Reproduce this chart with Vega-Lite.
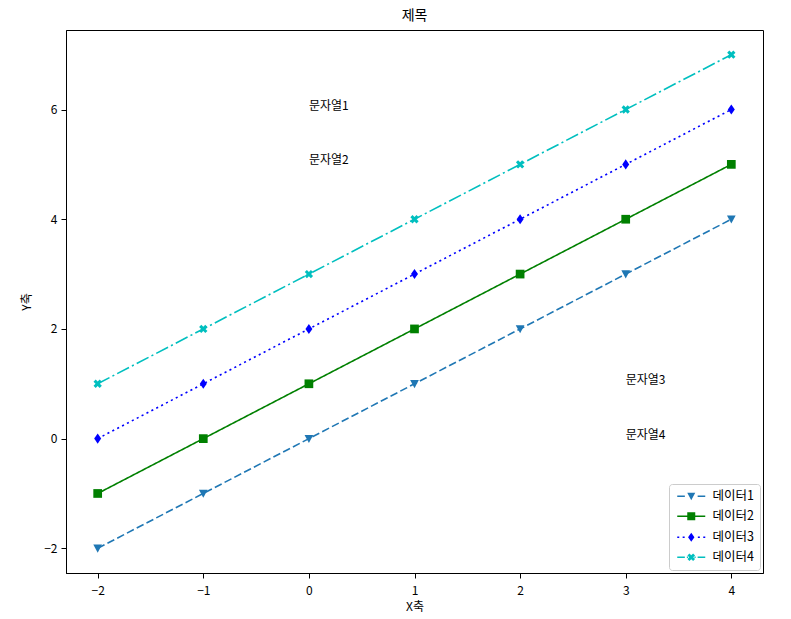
{
  "$schema": "https://vega.github.io/schema/vega-lite/v6.json",
  "width": 697,
  "height": 543,
  "autosize": {"type": "none"},
  "padding": {"left": 66, "top": 30, "right": 28, "bottom": 46},
  "background": "white",
  "config": {
    "font": "Noto Sans CJK KR",
    "view": {"stroke": "black", "strokeWidth": 1},
    "axis": {
      "grid": false,
      "domainColor": "black",
      "tickColor": "black",
      "tickSize": 5,
      "labelFontSize": 12,
      "labelColor": "black",
      "labelPadding": 4,
      "titleFontSize": 12,
      "titleFontWeight": "normal",
      "titleColor": "black"
    },
    "legend": {
      "symbolBaseFillColor": {"expr": "datum.value === '데이터1' ? '#1f77b4' : datum.value === '데이터2' ? '#008000' : datum.value === '데이터3' ? '#0000ff' : '#00bfbf'"},
      "symbolBaseStrokeColor": {"expr": "datum.value === '데이터1' ? '#1f77b4' : datum.value === '데이터2' ? '#008000' : datum.value === '데이터3' ? '#0000ff' : '#00bfbf'"}
    }
  },
  "title": {"text": "제목", "fontSize": 14, "fontWeight": "normal", "color": "black", "offset": 7, "anchor": "middle"},
  "datasets": {
    "lines": [
      {"series": "데이터1", "x": -2, "y": -2}, {"series": "데이터1", "x": -1, "y": -1}, {"series": "데이터1", "x": 0, "y": 0}, {"series": "데이터1", "x": 1, "y": 1}, {"series": "데이터1", "x": 2, "y": 2}, {"series": "데이터1", "x": 3, "y": 3}, {"series": "데이터1", "x": 4, "y": 4},
      {"series": "데이터2", "x": -2, "y": -1}, {"series": "데이터2", "x": -1, "y": 0}, {"series": "데이터2", "x": 0, "y": 1}, {"series": "데이터2", "x": 1, "y": 2}, {"series": "데이터2", "x": 2, "y": 3}, {"series": "데이터2", "x": 3, "y": 4}, {"series": "데이터2", "x": 4, "y": 5},
      {"series": "데이터3", "x": -2, "y": 0}, {"series": "데이터3", "x": -1, "y": 1}, {"series": "데이터3", "x": 0, "y": 2}, {"series": "데이터3", "x": 1, "y": 3}, {"series": "데이터3", "x": 2, "y": 4}, {"series": "데이터3", "x": 3, "y": 5}, {"series": "데이터3", "x": 4, "y": 6},
      {"series": "데이터4", "x": -2, "y": 1}, {"series": "데이터4", "x": -1, "y": 2}, {"series": "데이터4", "x": 0, "y": 3}, {"series": "데이터4", "x": 1, "y": 4}, {"series": "데이터4", "x": 2, "y": 5}, {"series": "데이터4", "x": 3, "y": 6}, {"series": "데이터4", "x": 4, "y": 7}
    ],
    "notes": [
      {"label": "문자열1", "x": 0, "y": 6},
      {"label": "문자열2", "x": 0, "y": 5},
      {"label": "문자열3", "x": 3, "y": 1},
      {"label": "문자열4", "x": 3, "y": 0}
    ]
  },
  "encoding": {
    "x": {"field": "x", "type": "quantitative", "scale": {"domain": [-2.3, 4.3], "nice": false, "zero": false}, "axis": {"values": [-2, -1, 0, 1, 2, 3, 4], "format": "d", "title": "X축", "titlePadding": 5, "labelPadding": 7}},
    "y": {"field": "y", "type": "quantitative", "scale": {"domain": [-2.45, 7.45], "nice": false, "zero": false}, "axis": {"values": [-2, 0, 2, 4, 6], "format": "d", "title": "Y축", "titlePadding": 10}}
  },
  "layer": [
    {
      "data": {"name": "lines"},
      "mark": {"type": "line", "strokeWidth": 1.6},
      "encoding": {
        "color": {"field": "series", "type": "nominal", "scale": {"domain": ["데이터1", "데이터2", "데이터3", "데이터4"], "range": ["#1f77b4", "#008000", "#0000ff", "#00bfbf"]}, "legend": null},
        "strokeDash": {"field": "series", "type": "nominal", "scale": {"domain": ["데이터1", "데이터2", "데이터3", "데이터4"], "range": [[7.7, 3.3], [1, 0], [2.1, 3.4], [13.3, 3.3, 2.1, 3.3]]}, "legend": null}
      }
    },
    {
      "data": {"name": "lines"},
      "mark": {"type": "point", "filled": true, "opacity": 1, "size": 76},
      "encoding": {
        "color": {"field": "series", "type": "nominal", "legend": null},
        "shape": {"field": "series", "type": "nominal", "scale": {"domain": ["데이터1", "데이터2", "데이터3", "데이터4"], "range": ["M-1,-0.85L1,-0.85L0,1Z", "M-1,-1L1,-1L1,1L-1,1Z", "M0,-1.15L0.8,0L0,1.15L-0.8,0Z", "M0.955,-0.46L0.495,0L0.955,0.46L0.46,0.955L0,0.495L-0.46,0.955L-0.955,0.46L-0.495,0L-0.955,-0.46L-0.46,-0.955L0,-0.495L0.46,-0.955Z"]}, "legend": null}
      }
    },
    {
      "data": {"name": "notes"},
      "mark": {"type": "text", "align": "left", "baseline": "alphabetic", "fontSize": 12, "color": "black"},
      "encoding": {"text": {"field": "label", "type": "nominal"}}
    },
    {
      "data": {"name": "lines"},
      "transform": [{"filter": "false"}],
      "mark": {"type": "point", "filled": true, "opacity": 1, "size": 64},
      "encoding": {
        "fill": {"field": "series", "type": "nominal", "scale": {"domain": ["데이터1", "데이터2", "데이터3", "데이터4"], "range": ["#1f77b4", "#008000", "#0000ff", "#00bfbf"]}, "legend": null},
        "stroke": {"field": "series", "type": "nominal", "scale": {"domain": ["데이터1", "데이터2", "데이터3", "데이터4"], "range": ["#1f77b4", "#008000", "#0000ff", "#00bfbf"]}, "legend": null},
        "shape": {"field": "series", "type": "nominal", "scale": {"domain": ["데이터1", "데이터2", "데이터3", "데이터4"], "range": [
          "M-3.5,-0.2L-1.6,-0.2L-1.6,0.2L-3.5,0.2ZM1.6,-0.2L3.5,-0.2L3.5,0.2L1.6,0.2ZM-1,-0.85L1,-0.85L0,1Z",
          "M-3.5,-0.2L3.5,-0.2L3.5,0.2L-3.5,0.2ZM-1,-1L1,-1L1,1L-1,1Z",
          "M-3.5,-0.2L-3,-0.2L-3,0.2L-3.5,0.2ZM-2.15,-0.2L-1.65,-0.2L-1.65,0.2L-2.15,0.2ZM1.65,-0.2L2.15,-0.2L2.15,0.2L1.65,0.2ZM3,-0.2L3.5,-0.2L3.5,0.2L3,0.2ZM0,-1.15L0.8,0L0,1.15L-0.8,0Z",
          "M-3.5,-0.2L-1.6,-0.2L-1.6,0.2L-3.5,0.2ZM-1.1,-0.2L-0.8,-0.2L-0.8,0.2L-1.1,0.2ZM0.8,-0.2L1.1,-0.2L1.1,0.2L0.8,0.2ZM1.6,-0.2L3.5,-0.2L3.5,0.2L1.6,0.2ZM0.955,-0.46L0.495,0L0.955,0.46L0.46,0.955L0,0.495L-0.46,0.955L-0.955,0.46L-0.495,0L-0.955,-0.46L-0.46,-0.955L0,-0.495L0.46,-0.955Z"
        ]}, "legend": {
          "title": null, "orient": "bottom-right", "offset": 3,
          "labelFontSize": 12.5, "labelColor": "black",
          "fillColor": "white", "strokeColor": "#cccccc", "cornerRadius": 3, "padding": 6,
          "rowPadding": 7, "symbolSize": 64, "symbolOffset": 10, "labelOffset": 15,
          "symbolStrokeWidth": 1,
          "symbolOpacity": 1
        }}
      }
    }
  ],
  "resolve": {"scale": {"shape": "independent"}}
}
